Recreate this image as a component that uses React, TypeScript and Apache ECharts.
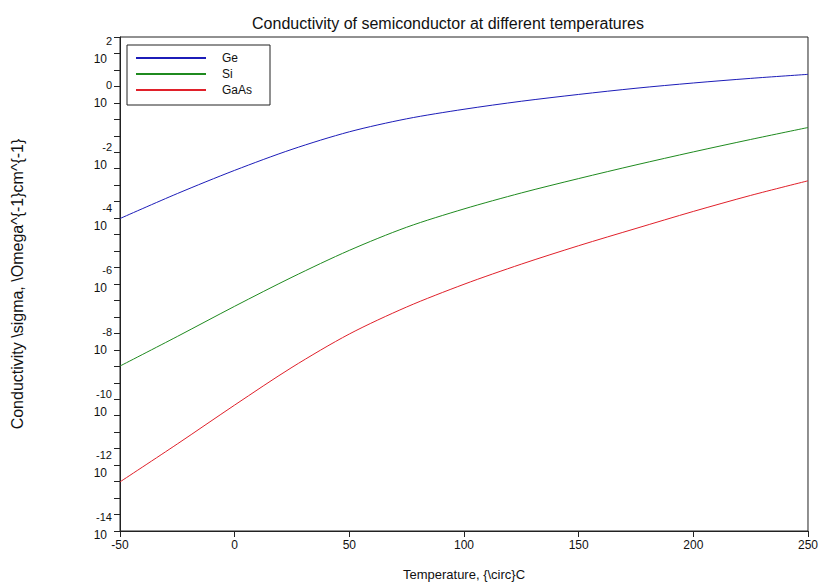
import React, { useEffect, useRef } from "react";
import * as echarts from "echarts";

const temperatures = [-50, -25, 0, 25, 50, 75, 100, 125, 150, 175, 200, 225, 250];
const geConductivity = [1.32e-4, 8.5e-4, 4.8e-3, 2.3e-2, 8.5e-2, 0.224, 0.457, 0.83, 1.38, 2.19, 3.24, 4.57, 6.17];
const siConductivity = [2.2e-9, 2.0e-8, 1.9e-7, 1.66e-6, 1.23e-5, 6.9e-5, 2.7e-4, 8.9e-4, 2.6e-3, 7.2e-3, 1.9e-2, 4.8e-2, 0.117];
const gaasConductivity = [3.9e-13, 6.6e-12, 1.2e-10, 2.0e-9, 2.4e-8, 1.8e-7, 9.8e-7, 4.4e-6, 1.74e-5, 6.3e-5, 2.24e-4, 7.4e-4, 2.2e-3];
const seriesNames = ["Ge", "Si", "GaAs"];
const yLabelExponents = [-14, -12, -10, -8, -6, -4, -2, 0, 2];
const yMinExp = -14;
const yMaxExp = 2;
const yTickIntervals = 30;

const FONT = "'Liberation Sans', Arial, sans-serif";

export default function App() {
  const ref = useRef<HTMLDivElement>(null);
  useEffect(() => {
    if (!ref.current) return;
    const chart = echarts.init(ref.current, null, { renderer: "svg" });
    const yTickValues: number[] = [];
    for (let k = 0; k <= yTickIntervals; k++) {
      yTickValues.push(Math.pow(10, yMinExp + ((yMaxExp - yMinExp) * k) / yTickIntervals));
    }
    const colors = ["#1c1cb8", "#1f8a1f", "#e0202a"];
    const allData = [geConductivity, siConductivity, gaasConductivity];
    const eStyle = { fontSize: 11, color: "#111", fontFamily: FONT, align: "right", lineHeight: 18 };
    const bStyle = { fontSize: 12, color: "#111", fontFamily: FONT, align: "right", padding: [0, 5, 0, 0], lineHeight: 18 };
    chart.setOption({
      animation: false,
      backgroundColor: "#fff",
      textStyle: { fontFamily: FONT },
      title: {
        text: "Conductivity of semiconductor at different temperatures",
        left: 443,
        textAlign: "center",
        top: 10,
        textStyle: { fontSize: 16, fontWeight: "normal", color: "#111", fontFamily: FONT },
      },
      grid: {
        left: 120,
        right: 13,
        top: 37,
        bottom: 54,
        show: true,
        borderColor: "#222",
        borderWidth: 1,
        backgroundColor: "transparent",
      },
      legend: {
        left: 127,
        top: 45,
        orient: "vertical",
        data: seriesNames,
        itemWidth: 70,
        itemHeight: 14,
        itemGap: 4,
        padding: [7, 18, 9, 8],
        borderColor: "#222",
        borderWidth: 1,
        borderRadius: 0,
        backgroundColor: "#fff",
        itemStyle: { color: "transparent", borderColor: "transparent", borderWidth: 0, opacity: 0 },
        textStyle: { fontSize: 12, color: "#111", fontFamily: FONT, padding: [0, 0, 0, 11] },
      },
      xAxis: {
        type: "value",
        min: -50,
        max: 250,
        interval: 50,
        name: "Temperature, {\\circ}C",
        nameLocation: "middle",
        nameGap: 37,
        nameTextStyle: { fontSize: 13, color: "#111", fontFamily: FONT },
        axisLine: { show: true, onZero: false, lineStyle: { color: "#222", width: 1 } },
        axisTick: { show: true, length: 6, inside: false, lineStyle: { color: "#222" } },
        axisLabel: { fontSize: 12, color: "#111", margin: 8, fontFamily: FONT },
        splitLine: { show: false },
      },
      yAxis: {
        type: "log",
        logBase: 10,
        min: Math.pow(10, yMinExp),
        max: Math.pow(10, yMaxExp),
        name: "Conductivity \\sigma, \\Omega^{-1}cm^{-1}",
        nameLocation: "middle",
        nameGap: 95,
        nameRotate: 90,
        nameTextStyle: { fontSize: 16, color: "#111", fontFamily: FONT },
        axisLine: { show: true, onZero: false, lineStyle: { color: "#222", width: 1 } },
        axisTick: {
          show: true,
          length: 6,
          inside: false,
          customValues: yTickValues,
          lineStyle: { color: "#222" },
        },
        axisLabel: {
          customValues: yLabelExponents.map((e) => Math.pow(10, e)),
          margin: 8,
          padding: [0, 0, 10, 0],
          formatter: (v: number) => {
            const e = Math.round(Math.log10(v));
            if (e === yMaxExp) return `{sp| }\n{e|${e}}\n{b|10}`;
            return `{e|${e}}\n{b|10}`;
          },
          rich: {
            e: eStyle,
            sp: { fontSize: 11, lineHeight: 36, color: "transparent" },
            b: bStyle,
          },
        },
        splitLine: { show: false },
      },
      series: allData.map((vals, i) => ({
        name: seriesNames[i],
        type: "line",
        smooth: 0.3,
        symbol: "none",
        lineStyle: { color: colors[i], width: 1 },
        itemStyle: { color: colors[i] },
        data: temperatures.map((t, j) => [t, vals[j]]),
      })),
    });
    return () => chart.dispose();
  }, []);
  return (
    <div
      ref={ref}
      style={{ position: "fixed", left: 0, top: 0, width: 821, height: 586, background: "#fff" }}
    />
  );
}
